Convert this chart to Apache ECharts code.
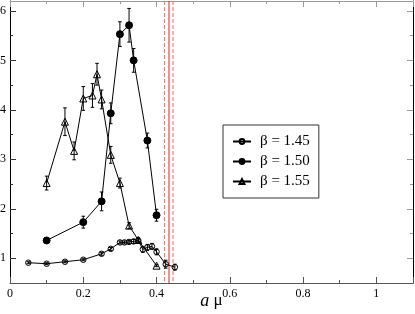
<!DOCTYPE html>
<html>
<head>
<meta charset="utf-8">
<script src="https://cdn.jsdelivr.net/npm/echarts@6/dist/echarts.min.js"></script>
<style>
html,body{margin:0;padding:0;background:#fff;}
#c{width:415px;height:314px;}
</style>
</head>
<body>
<div id="c"></div>
<script>
// beta = 1.45 (open circles)
const x145 = [0.05,0.1,0.15,0.2,0.25,0.275,0.3,0.3125,0.325,0.3375,0.35,0.3625,0.375,0.3875,0.4,0.425,0.45];
const y145 = [0.91,0.89,0.93,0.97,1.09,1.19,1.32,1.32,1.33,1.34,1.36,1.18,1.22,1.24,1.13,0.88,0.82];
const e145 = [0.02,0.02,0.02,0.02,0.03,0.03,0.03,0.03,0.03,0.04,0.05,0.06,0.06,0.06,0.06,0.08,0.06];
// beta = 1.50 (filled circles)
const x150 = [0.1,0.2,0.25,0.275,0.3,0.325,0.3375,0.375,0.4];
const y150 = [1.36,1.73,2.15,3.93,5.53,5.71,5.0,3.38,1.87];
const e150 = [0.03,0.12,0.19,0.21,0.25,0.34,0.24,0.15,0.12];
// beta = 1.55 (open triangles)
const x155 = [0.1,0.15,0.175,0.2,0.225,0.2375,0.25,0.275,0.3,0.325,0.35,0.4];
const y155 = [2.52,3.76,3.17,4.23,4.29,4.72,4.21,3.09,2.52,1.66,1.37,0.85];
const e155 = [0.14,0.28,0.18,0.24,0.24,0.22,0.19,0.17,0.10,0.06,0.04,0.02];
// vertical reference lines
const vSolid = [0.434];
const vDashed = [0.422, 0.445];
// tick labels
const yMajor = [1,2,3,4,5,6];
const yMinor = [1.5,2.5,3.5,4.5,5.5];
const names = ['\u03b2 = 1.45','\u03b2 = 1.50','\u03b2 = 1.55'];

const serif = 'Liberation Serif';

function pts(xs, ys){ return xs.map((x,i)=>[x, ys[i]]); }
function errData(xs, ys, es){ return xs.map((x,i)=>[x, ys[i]-es[i], ys[i]+es[i]]); }

function errSeries(xs, ys, es){
  return {
    type:'custom', xAxisIndex:0, yAxisIndex:0, z:5, silent:true,
    data: errData(xs, ys, es),
    renderItem: function(params, api){
      const lo = api.coord([api.value(0), api.value(1)]);
      const hi = api.coord([api.value(0), api.value(2)]);
      const w = 1.8;
      const st = {stroke:'#000', lineWidth:1};
      return {type:'group', children:[
        {type:'line', shape:{x1:lo[0],y1:lo[1],x2:hi[0],y2:hi[1]}, style:st},
        {type:'line', shape:{x1:lo[0]-w,y1:lo[1],x2:lo[0]+w,y2:lo[1]}, style:st},
        {type:'line', shape:{x1:hi[0]-w,y1:hi[1],x2:hi[0]+w,y2:hi[1]}, style:st}
      ]};
    }
  };
}

function vlineSeries(xs, color, dash){
  return {
    type:'custom', xAxisIndex:0, yAxisIndex:0, z:2, silent:true,
    data: xs.map(v=>[v]),
    renderItem: function(params, api){
      const cs = params.coordSys;
      const p = api.coord([api.value(0), 1]);
      return {type:'line',
        shape:{x1:p[0], y1:cs.y, x2:p[0], y2:cs.y+cs.height},
        style:{stroke:color, lineWidth:1, lineDash:dash}};
    }
  };
}

const axisText = {fontFamily:serif, fontSize:12, color:'#000'};

const option = {
  backgroundColor:'#fff',
  animation:false,
  grid:{left:10, right:2, top:1, bottom:31, containLabel:false, outerBoundsMode:'none'},
  legend:{
    orient:'vertical', left:223, top:125,
    data:names,
    backgroundColor:'#fff',
    borderColor:'#333', borderWidth:1,
    padding:[9,9,9,9],
    itemWidth:18, itemHeight:6, itemGap:5,
    textStyle:{fontFamily:serif, fontSize:15, color:'#000', padding:[0,0,0,4]}
  },
  xAxis:[
    {type:'value', min:0, max:1.1, interval:0.2, position:'bottom',
     axisLine:{lineStyle:{color:'#555', width:1}},
     axisTick:{inside:true, length:6, lineStyle:{color:'#555'}},
     minorTick:{show:true, splitNumber:2, length:3, lineStyle:{color:'#555'}},
     splitLine:{show:false},
     axisLabel:Object.assign({margin:5, showMaxLabel:false}, axisText),
     name:'{i|a} \u03bc', nameLocation:'middle', nameGap:9, nameMoveOverlap:false,
     nameTextStyle:{fontFamily:serif, fontSize:17, color:'#000', verticalAlign:'top',
       rich:{i:{fontFamily:serif, fontStyle:'italic', fontSize:18, color:'#000'}}}
    },
    {type:'value', min:0, max:1.1, interval:0.2, position:'top',
     axisLine:{lineStyle:{color:'#999', width:1}},
     axisTick:{inside:true, length:6, lineStyle:{color:'#999'}},
     minorTick:{show:true, splitNumber:2, length:3, lineStyle:{color:'#999'}},
     splitLine:{show:false}, axisLabel:{show:false}}
  ],
  yAxis:[
    {type:'value', min:0.5, max:6.2, position:'left',
     axisLine:{show:true, lineStyle:{color:'#000', width:1}},
     axisTick:{show:true, inside:true, length:6, customValues:yMajor, lineStyle:{color:'#333'}},
     axisLabel:Object.assign({margin:4, customValues:yMajor}, axisText),
     splitLine:{show:false}},
    {type:'value', min:0.5, max:6.2, position:'left',
     axisLine:{show:false},
     axisTick:{show:true, inside:true, length:3, customValues:yMinor, lineStyle:{color:'#333'}},
     axisLabel:{show:false}, splitLine:{show:false}},
    {type:'value', min:0.5, max:6.2, position:'right',
     axisLine:{show:true, lineStyle:{color:'#000', width:1}},
     axisTick:{show:true, inside:true, length:6, customValues:yMajor, lineStyle:{color:'#999'}},
     axisLabel:{show:false}, splitLine:{show:false}},
    {type:'value', min:0.5, max:6.2, position:'right',
     axisLine:{show:false},
     axisTick:{show:true, inside:true, length:3, customValues:yMinor, lineStyle:{color:'#999'}},
     axisLabel:{show:false}, splitLine:{show:false}}
  ],
  series:[
    vlineSeries(vDashed, '#f26b6b', [4,2]),
    vlineSeries(vSolid, '#e8201a', null),
    {name:names[0], type:'line', xAxisIndex:0, yAxisIndex:0, z:3,
     data:pts(x145,y145), symbol:'circle', symbolSize:5.5,
     lineStyle:{color:'#000', width:1},
     itemStyle:{color:'rgba(255,255,255,0)', borderColor:'#000', borderWidth:1}},
    {name:names[1], type:'line', xAxisIndex:0, yAxisIndex:0, z:3,
     data:pts(x150,y150), symbol:'circle', symbolSize:7,
     lineStyle:{color:'#000', width:1},
     itemStyle:{color:'#000', borderColor:'#000', borderWidth:1}},
    {name:names[2], type:'line', xAxisIndex:0, yAxisIndex:0, z:3,
     data:pts(x155,y155), symbol:'triangle', symbolSize:7,
     lineStyle:{color:'#000', width:1},
     itemStyle:{color:'rgba(255,255,255,0)', borderColor:'#000', borderWidth:1}},
    errSeries(x145,y145,e145),
    errSeries(x150,y150,e150),
    errSeries(x155,y155,e155)
  ]
};

const chart = echarts.init(document.getElementById('c'), null, {renderer:'canvas'});
chart.setOption(option);
</script>
</body>
</html>
